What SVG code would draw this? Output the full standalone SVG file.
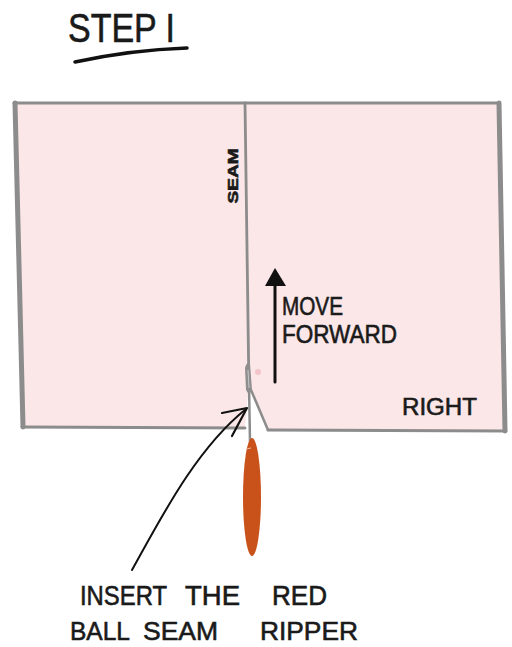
<svg xmlns="http://www.w3.org/2000/svg" width="512" height="647" viewBox="0 0 512 647">
  <style>
    .hand { font-family: "Liberation Sans", "DejaVu Sans", sans-serif; fill: #1a1a1a; stroke: #1a1a1a; stroke-width: 0.6; }
    .edge { stroke: #8c8c8c; fill: none; stroke-linecap: round; stroke-linejoin: round; }
    .ink { stroke: #111; fill: none; stroke-linecap: round; stroke-linejoin: round; }
  </style>
  <rect width="512" height="647" fill="#ffffff"/>

  <!-- Title -->
  <g id="title">
    <text class="hand" x="68" y="42" font-size="40" textLength="107" lengthAdjust="spacingAndGlyphs">STEP I</text>
    <path class="ink" d="M75,62 Q130,50 187,48" stroke-width="3.5"/>
  </g>

  <!-- Fabric with seam -->
  <g id="fabric">
    <polygon points="14,103 499,103 505,431 268,430 252,393 248,393 245,428 23,427" fill="#fbe7e7"/>
    <line class="edge" x1="14" y1="103" x2="499" y2="103" stroke-width="3"/>
    <line class="edge" x1="15" y1="103" x2="23" y2="427" stroke-width="5"/>
    <line class="edge" x1="499" y1="103" x2="505" y2="431" stroke-width="5"/>
    <line class="edge" x1="22" y1="427" x2="245" y2="428" stroke-width="3"/>
    <line class="edge" x1="268" y1="430" x2="506" y2="431" stroke-width="3"/>
    <path class="edge" d="M251,390 L268,430" stroke-width="2.5"/>
  </g>

  <g id="seam">
    <line class="edge" x1="245" y1="103" x2="249" y2="392" stroke-width="2.8"/>
    <text class="hand" x="233" y="181" font-size="14" font-weight="bold" text-anchor="middle" textLength="55" lengthAdjust="spacingAndGlyphs" transform="rotate(-90 233 176)">SEAM</text>
  </g>

  <g id="right-label">
    <text class="hand" x="402" y="415" font-size="23" textLength="75" lengthAdjust="spacingAndGlyphs">RIGHT</text>
  </g>

  <!-- Seam ripper -->
  <g id="seam-ripper">
    <line class="edge" x1="249" y1="385" x2="250" y2="442" stroke-width="2.5"/>
    <path d="M245,368 Q247,361 250,364 L252,390 Q249,396 246,390 Z" fill="#8e8e8e"/>
    <path d="M248,370 L249,388" stroke="#c8c8c8" stroke-width="1" fill="none"/>
    <circle cx="258" cy="372" r="3" fill="#f3c4ca"/>
    <ellipse cx="252" cy="497" rx="9" ry="59" fill="#c9521b"/>
    <path d="M246,449 L251,448" stroke="#e9b59a" stroke-width="1" fill="none"/>
  </g>

  <!-- Move forward -->
  <g id="move-forward">
    <text class="hand" x="282" y="315" font-size="25" textLength="61" lengthAdjust="spacingAndGlyphs">MOVE</text>
    <text class="hand" x="282" y="343" font-size="25" textLength="115" lengthAdjust="spacingAndGlyphs">FORWARD</text>
  </g>

  <!-- Instruction -->
  <g id="instruction">
    <text class="hand" x="80" y="605" font-size="27" textLength="87" lengthAdjust="spacingAndGlyphs">INSERT</text>
    <text class="hand" x="185" y="605" font-size="27" textLength="55" lengthAdjust="spacingAndGlyphs">THE</text>
    <text class="hand" x="272" y="605" font-size="27" textLength="55" lengthAdjust="spacingAndGlyphs">RED</text>
    <text class="hand" x="70" y="640" font-size="26" textLength="60" lengthAdjust="spacingAndGlyphs">BALL</text>
    <text class="hand" x="143" y="640" font-size="26" textLength="75" lengthAdjust="spacingAndGlyphs">SEAM</text>
    <text class="hand" x="260" y="640" font-size="26" textLength="98" lengthAdjust="spacingAndGlyphs">RIPPER</text>
  </g>

  <!-- Connectors -->
  <g id="connectors">
    <line class="ink" x1="275" y1="283" x2="275" y2="382" stroke-width="3"/>
    <polygon points="275,268 265,286 286,286" fill="#111"/>
    <path class="ink" d="M132,570 C160,520 195,450 246,409" stroke-width="2"/>
    <path class="ink" d="M222,413 L247,408 L232,436" stroke-width="2.2"/>
  </g>
</svg>
